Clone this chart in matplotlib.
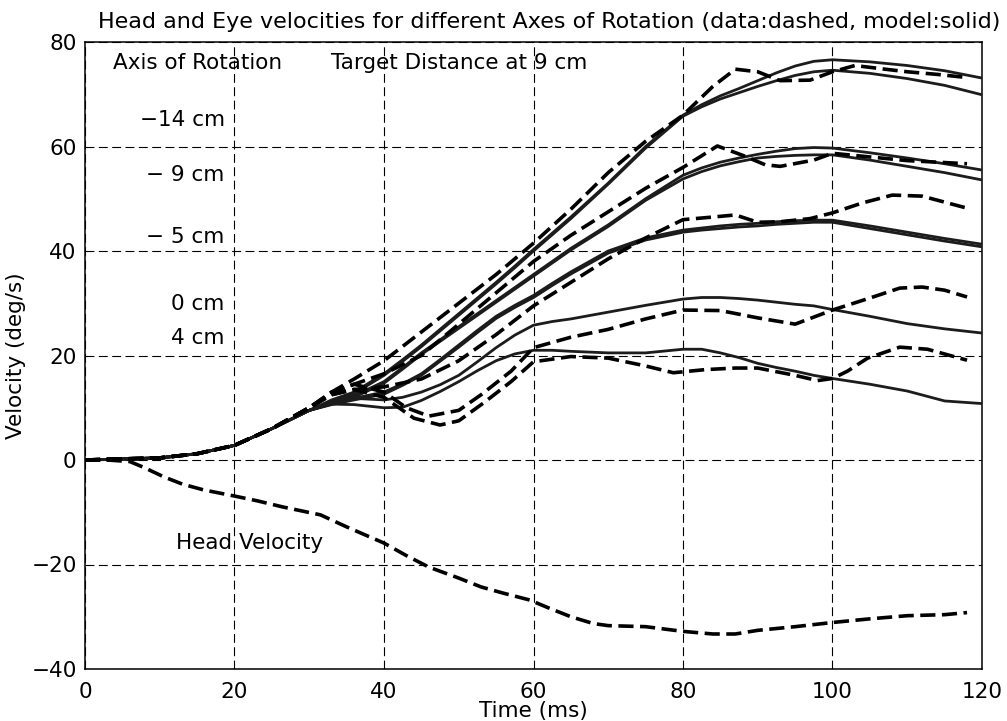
import matplotlib
matplotlib.use("Agg")
import matplotlib.pyplot as plt

plt.rcParams['font.family'] = ['DejaVu Sans']

# ---------------- data ----------------
# model (solid) curves, shared time base
t_model = [0, 5, 10, 15, 20, 25, 30, 33, 36, 40, 42.5, 45, 47.5, 50, 52.5, 55, 57.5, 60,
           62.5, 65, 70, 75, 80, 82.5, 85, 87.5, 90, 92.5, 95, 97.5, 100, 105, 110, 115, 120]
m_14a = [0, 0.2, 0.4, 1.2, 2.8, 6, 9.5,
         11.5, 13, 16.5, 19.2, 22, 25, 28, 31, 34, 37.1, 40.3, 43.4, 46.5,
         53, 60, 66, 68, 69.7, 71.1, 72.6, 74.1, 75.4, 76.3, 76.6, 76.2, 75.5, 74.5, 73.1]
m_14b = [0, 0.2, 0.4, 1.2, 2.8, 6, 9.5,
         11.3, 12.7, 16.2, 18.9, 21.7, 24.7, 27.7, 30.7, 33.7, 36.8, 40, 43.1, 46.2,
         52.8, 59.7, 65.8, 67.6, 69.1, 70.3, 71.5, 72.6, 73.6, 74.3, 74.6, 74, 73, 71.7, 69.9]
m_9a = [0, 0.2, 0.4, 1.2, 2.8, 6, 9.5,
        11, 12.3, 15, 17.7, 20.5, 23, 25.5, 28, 30.5, 33, 35.5, 38, 40.5,
        45, 50, 54.5, 55.9, 57, 57.8, 58.5, 59.1, 59.6, 59.8, 59.7, 58.8, 57.8, 56.7, 55.5]
m_9b = [0, 0.2, 0.4, 1.2, 2.8, 6, 9.5,
        10.8, 12, 14.7, 17.4, 20.2, 22.7, 25.2, 27.7, 30.2, 32.7, 35.2, 37.7, 40.2,
        44.7, 49.7, 53.8, 55.2, 56.3, 57.1, 57.8, 58.1, 58.3, 58.4, 58.4, 57.4, 56.2, 55, 53.6]
m_5a = [0, 0.2, 0.4, 1.2, 2.8, 6, 9.5,
        10.8, 11.8, 13, 14.6, 16.5, 19.2, 22, 24.8, 27.5, 29.6, 31.5, 33.8, 36,
        40, 42.5, 44, 44.4, 44.8, 45.1, 45.3, 45.6, 45.8, 45.9, 45.9, 44.8, 43.6, 42.4, 41.3]
m_5b = [0, 0.2, 0.4, 1.2, 2.8, 6, 9.5,
        10.6, 11.5, 12.6, 14.3, 16.2, 18.9, 21.6, 24.4, 27.1, 29.2, 31.1, 33.4, 35.6,
        39.6, 42.1, 43.6, 44, 44.3, 44.6, 44.8, 45.1, 45.3, 45.5, 45.5, 44.3, 43.1, 41.9, 40.8]
m_0 = [0, 0.2, 0.4, 1.2, 2.8, 6, 9.5,
       10.8, 11.8, 11.5, 12, 13, 14.4, 16.2, 18.8, 21.5, 23.9, 25.8, 26.5, 27,
       28.3, 29.6, 30.8, 31.1, 31.1, 30.9, 30.6, 30.2, 29.8, 29.5, 28.8, 27.5, 26.1, 25.1, 24.3]
m_4 = [0, 0.2, 0.4, 1.2, 2.8, 6, 9.5,
       10.7, 10.6, 10, 10.1, 11.4, 13.1, 15, 17.1, 19, 20.3, 21, 21, 20.8,
       20.5, 20.5, 21.2, 21.2, 20.5, 19.6, 18.5, 17.7, 17, 16.2, 15.6, 14.5, 13.2, 11.3, 10.8]

# data (dashed) curves
t_d14 = [0, 5, 10, 15, 20, 25, 30, 33, 36, 40, 45, 50, 55, 60, 65, 70, 75, 80, 84, 87,
         90, 93, 97, 100, 103, 107, 110, 114, 118]
d_14 = [0, 0.2, 0.4, 1.2, 2.8, 6, 10, 13, 15.5, 19, 24.5, 30, 35.5, 41.5, 48, 55, 61, 66,
        71.5, 74.8, 74.3, 72.6, 72.7, 74.3, 75.5, 74.8, 74.3, 73.8, 73.2]
t_d9 = [0, 5, 10, 15, 20, 25, 30, 33, 36, 40, 45, 50, 55, 60, 65, 70, 75, 80, 84.6, 88,
        91, 93, 97.5, 100, 105, 110, 118]
d_9 = [0, 0.2, 0.4, 1.2, 2.8, 6, 10, 12.8, 14.5, 16.5, 20, 26, 32, 38, 43, 47.5, 52, 56,
       60.1, 58.3, 56.5, 56.2, 57.4, 58.7, 58, 57.3, 56.7]
t_d5 = [0, 5, 10, 15, 20, 25, 30, 33, 36, 40, 45, 50, 55, 60, 65, 70, 75, 80, 84, 87,
        90, 93, 97, 100, 104, 108, 112, 118]
d_5 = [0, 0.2, 0.4, 1.2, 2.8, 6, 10, 12.5, 13.5, 14, 15.5, 19, 24, 29.5, 34, 38.5, 42.5,
       46, 46.5, 46.9, 45.5, 45.6, 46.2, 47.3, 49.2, 50.7, 50.5, 48.2]
t_d0 = [0, 5, 10, 15, 20, 25, 30, 33, 36, 40, 43, 46, 50, 53, 57, 60, 65, 70, 75, 80,
        85, 90, 95, 100, 105, 109, 112, 115, 118]
d_0 = [0, 0.2, 0.4, 1.2, 2.8, 6, 10, 13, 14.5, 13, 10, 8.4, 9.5, 12.5, 17, 21.5, 23.5,
       25, 27, 28.7, 28.6, 27.2, 26, 28.7, 31, 32.9, 33.1, 32.5, 31.2]
t_d4 = [0, 5, 10, 15, 20, 25, 30, 33, 36, 40, 44, 47.5, 50, 53.3, 57, 60, 65, 70, 75,
        78.7, 83, 87, 90, 95, 98, 100, 102, 104.7, 109, 112.7, 118]
d_4 = [0, 0.2, 0.4, 1.2, 2.8, 6, 10, 12.5, 13.5, 12, 8, 6.7, 7.5, 10.9, 15, 18.8, 19.8,
       19.5, 18, 16.7, 17.3, 17.6, 17.6, 16.2, 15.2, 15.6, 17, 19.5, 21.6, 21.2, 19.1]

t_head = [0, 3, 6, 8, 10.5, 13, 15.8, 20, 23, 26.5, 31.5, 35, 40, 43, 46, 50, 53, 56,
          59.5, 62, 65, 68, 70, 75, 80, 84, 87, 90, 95, 100, 105, 110, 115, 118]
v_head = [0, 0, -0.3, -1.5, -3.2, -4.6, -5.7, -6.9, -7.8, -9, -10.5, -12.8, -15.9, -18.3,
          -20.5, -22.6, -24.3, -25.5, -26.8, -28.3, -30, -31.3, -31.7, -31.9, -32.8, -33.3,
          -33.3, -32.6, -31.9, -31.1, -30.4, -29.8, -29.6, -29.2]

x_ticks = [0, 20, 40, 60, 80, 100, 120]
y_ticks = [-40, -20, 0, 20, 40, 60, 80]
axis_labels = ["\u221214 cm", "\u2212 9 cm", "\u2212 5 cm", "0 cm", "4 cm"]
axis_label_y = [65, 54.5, 42.7, 29.9, 23.3]

# ---------------- figure ----------------
FS = 15.5
fig = plt.figure(figsize=(10.07, 7.21), dpi=100)
ax = fig.add_axes([85 / 1007, 1 - 669 / 721, (982 - 85) / 1007, (669 - 42) / 721])

solid_kw = dict(color='#1c1c1c', lw=2.0, solid_capstyle='round', solid_joinstyle='round',
                zorder=3)
for ys in [m_14a, m_14b, m_9a, m_9b, m_5a, m_5b, m_0, m_4]:
    ax.plot(t_model, ys, **solid_kw)

dash_kw = dict(color='black', lw=2.6, dashes=(4.2, 1.8), zorder=4)
for tx, ys in [(t_d14, d_14), (t_d9, d_9), (t_d5, d_5), (t_d0, d_0), (t_d4, d_4),
               (t_head, v_head)]:
    ax.plot(tx, ys, **dash_kw)

ax.set_xlim(0, 120)
ax.set_ylim(-40, 80)
ax.set_xticks(x_ticks)
ax.set_yticks(y_ticks)
ax.set_yticklabels([str(v).replace('-', '\u2212') for v in y_ticks])
ax.grid(True, color='black', lw=0.8, dashes=(8, 4))
ax.tick_params(direction='in', length=0, labelsize=FS, pad=6)
ax.tick_params(axis='x', pad=9)
for s in ax.spines.values():
    s.set_linewidth(1.1)

ax.set_title("Head and Eye velocities for different Axes of Rotation (data:dashed, model:solid)",
             fontsize=16, pad=10, x=0.518)
ax.set_xlabel("Time (ms)", fontsize=FS, labelpad=0)
ax.set_ylabel("Velocity (deg/s)", fontsize=FS, labelpad=4)

ax.text(3.75, 76, "Axis of Rotation", fontsize=FS, ha='left', va='center')
ax.text(67.2, 76, "Target Distance at 9 cm", fontsize=FS, ha='right', va='center')
for lab, yv in zip(axis_labels, axis_label_y):
    ax.text(18.7, yv, lab, fontsize=FS, ha='right', va='center')
ax.text(12.2, -15.9, "Head Velocity", fontsize=FS, ha='left', va='center')

fig.savefig("out.png", dpi=100)
